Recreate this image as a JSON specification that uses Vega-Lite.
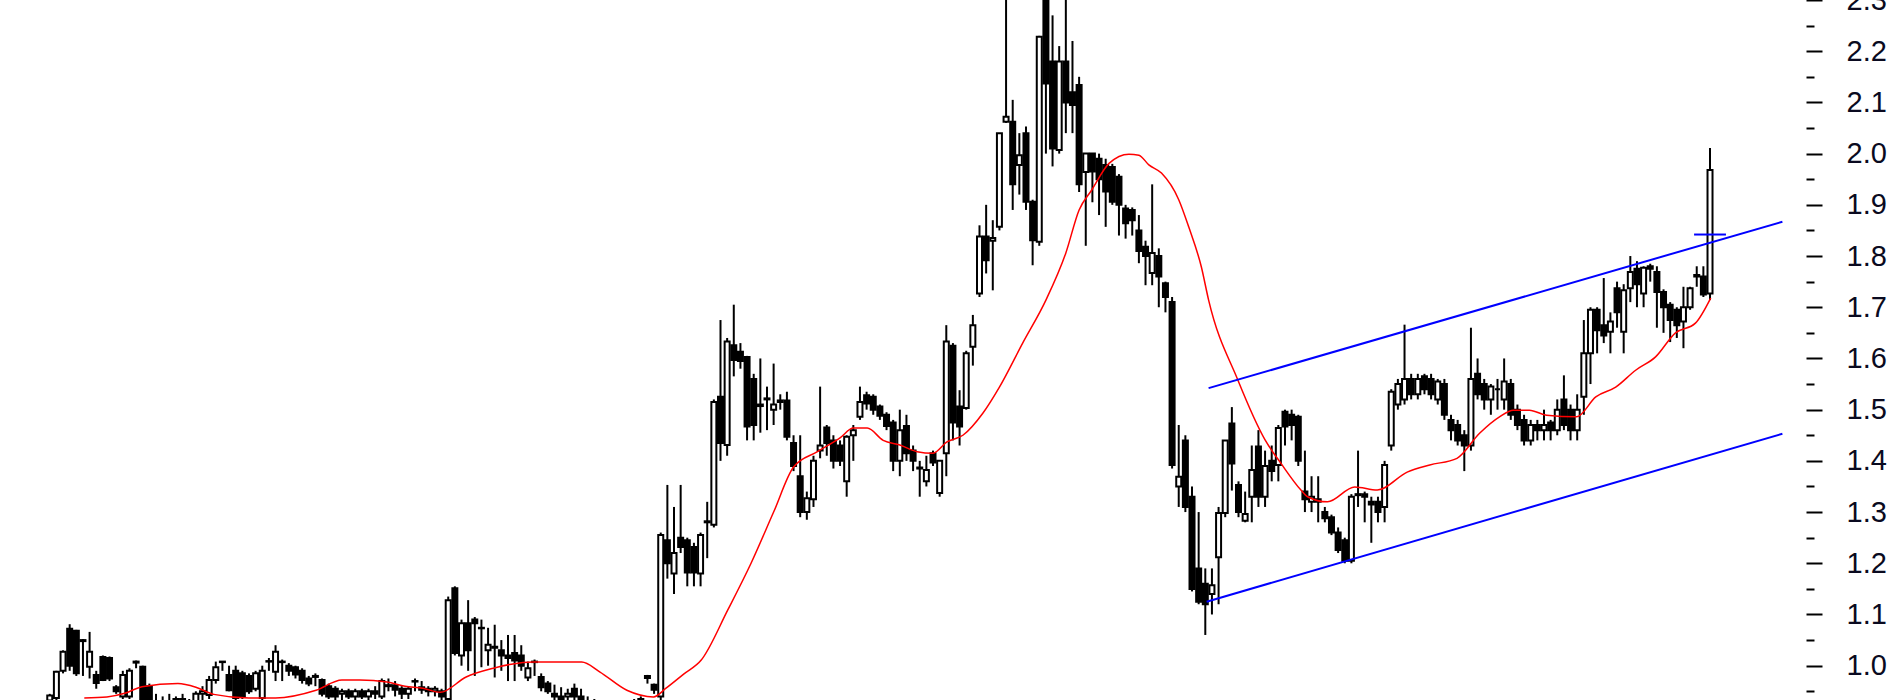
{
"$schema": "https://vega.github.io/schema/vega-lite/v6.json",
"width": 1806, "height": 700, "padding": {"left": 0, "top": 0, "bottom": 0, "right": 94}, "autosize": {"type": "none"},
"background": "white",
"config": {"view": {"stroke": null}},
"resolve": {"axis": {"y": "independent"}},
"datasets": {
"candles": [
{"i":0,"o":0.932,"h":0.945,"l":0.925,"c":0.942},
{"i":1,"o":0.937,"h":0.99,"l":0.93,"c":0.988},
{"i":2,"o":0.99,"h":1.03,"l":0.985,"c":1.027},
{"i":3,"o":1.072,"h":1.081,"l":0.99,"c":1.0},
{"i":4,"o":1.068,"h":1.07,"l":0.98,"c":0.985},
{"i":5,"o":1.05,"h":1.052,"l":0.98,"c":1.048},
{"i":6,"o":0.998,"h":1.066,"l":0.975,"c":1.027},
{"i":7,"o":0.982,"h":0.99,"l":0.955,"c":0.966},
{"i":8,"o":1.017,"h":1.02,"l":0.97,"c":0.972},
{"i":9,"o":1.015,"h":1.018,"l":0.97,"c":0.975},
{"i":10,"o":0.958,"h":0.962,"l":0.945,"c":0.95},
{"i":11,"o":0.94,"h":0.99,"l":0.935,"c":0.982},
{"i":12,"o":0.94,"h":0.995,"l":0.935,"c":0.99},
{"i":13,"o":1.006,"h":1.01,"l":0.995,"c":1.008},
{"i":14,"o":0.998,"h":1.0,"l":0.91,"c":0.92},
{"i":15,"o":0.96,"h":0.965,"l":0.91,"c":0.92},
{"i":16,"o":0.93,"h":0.945,"l":0.91,"c":0.92},
{"i":17,"o":0.92,"h":0.94,"l":0.9,"c":0.93},
{"i":18,"o":0.93,"h":0.945,"l":0.91,"c":0.925},
{"i":19,"o":0.92,"h":0.94,"l":0.9,"c":0.935},
{"i":20,"o":0.935,"h":0.945,"l":0.91,"c":0.92},
{"i":21,"o":0.92,"h":0.935,"l":0.9,"c":0.93},
{"i":22,"o":0.93,"h":0.95,"l":0.92,"c":0.945},
{"i":23,"o":0.945,"h":0.96,"l":0.93,"c":0.95},
{"i":24,"o":0.943,"h":0.98,"l":0.935,"c":0.972},
{"i":25,"o":0.972,"h":1.008,"l":0.965,"c":0.997},
{"i":26,"o":1.007,"h":1.009,"l":0.99,"c":1.008},
{"i":27,"o":0.982,"h":1.0,"l":0.95,"c":0.952},
{"i":28,"o":0.99,"h":1.0,"l":0.93,"c":0.937},
{"i":29,"o":0.985,"h":0.99,"l":0.935,"c":0.94},
{"i":30,"o":0.98,"h":0.985,"l":0.945,"c":0.95},
{"i":31,"o":0.955,"h":0.99,"l":0.95,"c":0.985},
{"i":32,"o":0.937,"h":1.0,"l":0.93,"c":0.99},
{"i":33,"o":1.008,"h":1.015,"l":0.99,"c":1.009},
{"i":34,"o":0.988,"h":1.04,"l":0.97,"c":1.027},
{"i":35,"o":1.008,"h":1.012,"l":0.97,"c":1.007},
{"i":36,"o":1.0,"h":1.005,"l":0.98,"c":0.99},
{"i":37,"o":0.997,"h":1.0,"l":0.975,"c":0.983},
{"i":38,"o":0.99,"h":0.995,"l":0.965,"c":0.972},
{"i":39,"o":0.975,"h":0.98,"l":0.96,"c":0.965},
{"i":40,"o":0.98,"h":0.985,"l":0.96,"c":0.978},
{"i":41,"o":0.972,"h":0.975,"l":0.94,"c":0.945},
{"i":42,"o":0.96,"h":0.965,"l":0.935,"c":0.94},
{"i":43,"o":0.955,"h":0.96,"l":0.93,"c":0.94},
{"i":44,"o":0.945,"h":0.955,"l":0.93,"c":0.95},
{"i":45,"o":0.95,"h":0.955,"l":0.935,"c":0.94},
{"i":46,"o":0.94,"h":0.955,"l":0.93,"c":0.95},
{"i":47,"o":0.95,"h":0.955,"l":0.935,"c":0.94},
{"i":48,"o":0.94,"h":0.955,"l":0.93,"c":0.95},
{"i":49,"o":0.95,"h":0.96,"l":0.935,"c":0.945},
{"i":50,"o":0.94,"h":0.975,"l":0.935,"c":0.97},
{"i":51,"o":0.962,"h":0.975,"l":0.95,"c":0.96},
{"i":52,"o":0.962,"h":0.97,"l":0.94,"c":0.953},
{"i":53,"o":0.955,"h":0.96,"l":0.935,"c":0.945},
{"i":54,"o":0.945,"h":0.96,"l":0.935,"c":0.955},
{"i":55,"o":0.97,"h":0.975,"l":0.95,"c":0.969},
{"i":56,"o":0.958,"h":0.97,"l":0.945,"c":0.953},
{"i":57,"o":0.955,"h":0.96,"l":0.94,"c":0.95},
{"i":58,"o":0.95,"h":0.96,"l":0.94,"c":0.955},
{"i":59,"o":0.95,"h":0.955,"l":0.93,"c":0.94},
{"i":60,"o":0.935,"h":1.135,"l":0.93,"c":1.128},
{"i":61,"o":1.151,"h":1.155,"l":1.02,"c":1.025},
{"i":62,"o":1.02,"h":1.09,"l":1.0,"c":1.083},
{"i":63,"o":1.083,"h":1.128,"l":0.99,"c":1.03},
{"i":64,"o":1.09,"h":1.095,"l":0.98,"c":1.083},
{"i":65,"o":1.074,"h":1.09,"l":0.997,"c":1.073},
{"i":66,"o":1.03,"h":1.074,"l":1.0,"c":1.041},
{"i":67,"o":1.035,"h":1.08,"l":0.977,"c":1.037},
{"i":68,"o":1.03,"h":1.05,"l":0.99,"c":1.02},
{"i":69,"o":1.02,"h":1.06,"l":0.97,"c":1.015},
{"i":70,"o":1.025,"h":1.06,"l":0.97,"c":1.01},
{"i":71,"o":1.02,"h":1.04,"l":0.99,"c":1.0},
{"i":72,"o":0.977,"h":1.008,"l":0.97,"c":0.995},
{"i":73,"o":1.008,"h":1.012,"l":0.98,"c":1.007},
{"i":74,"o":0.978,"h":0.985,"l":0.95,"c":0.958},
{"i":75,"o":0.965,"h":0.97,"l":0.945,"c":0.95},
{"i":76,"o":0.945,"h":0.963,"l":0.93,"c":0.94},
{"i":77,"o":0.94,"h":0.958,"l":0.925,"c":0.935},
{"i":78,"o":0.94,"h":0.955,"l":0.93,"c":0.945},
{"i":79,"o":0.955,"h":0.965,"l":0.93,"c":0.94},
{"i":80,"o":0.94,"h":0.955,"l":0.925,"c":0.935},
{"i":81,"o":0.93,"h":0.94,"l":0.91,"c":0.92},
{"i":82,"o":0.92,"h":0.935,"l":0.9,"c":0.925},
{"i":83,"o":0.925,"h":0.93,"l":0.9,"c":0.91},
{"i":84,"o":0.91,"h":0.925,"l":0.89,"c":0.9},
{"i":85,"o":0.9,"h":0.92,"l":0.89,"c":0.915},
{"i":86,"o":0.915,"h":0.925,"l":0.895,"c":0.905},
{"i":87,"o":0.905,"h":0.93,"l":0.89,"c":0.92},
{"i":88,"o":0.92,"h":0.935,"l":0.9,"c":0.91},
{"i":89,"o":0.91,"h":0.94,"l":0.9,"c":0.935},
{"i":90,"o":0.976,"h":0.982,"l":0.965,"c":0.98},
{"i":91,"o":0.963,"h":0.965,"l":0.945,"c":0.953},
{"i":92,"o":0.94,"h":1.26,"l":0.93,"c":1.255},
{"i":93,"o":1.245,"h":1.353,"l":1.17,"c":1.2},
{"i":94,"o":1.18,"h":1.31,"l":1.14,"c":1.22},
{"i":95,"o":1.25,"h":1.353,"l":1.22,"c":1.232},
{"i":96,"o":1.245,"h":1.25,"l":1.155,"c":1.182},
{"i":97,"o":1.232,"h":1.24,"l":1.155,"c":1.182},
{"i":98,"o":1.18,"h":1.26,"l":1.155,"c":1.255},
{"i":99,"o":1.28,"h":1.32,"l":1.21,"c":1.282},
{"i":100,"o":1.275,"h":1.52,"l":1.27,"c":1.515},
{"i":101,"o":1.525,"h":1.675,"l":1.4,"c":1.435},
{"i":102,"o":1.431,"h":1.64,"l":1.41,"c":1.633},
{"i":103,"o":1.626,"h":1.705,"l":1.565,"c":1.597},
{"i":104,"o":1.613,"h":1.63,"l":1.58,"c":1.595},
{"i":105,"o":1.603,"h":1.605,"l":1.44,"c":1.467},
{"i":106,"o":1.56,"h":1.57,"l":1.44,"c":1.47},
{"i":107,"o":1.51,"h":1.6,"l":1.455,"c":1.507},
{"i":108,"o":1.52,"h":1.545,"l":1.46,"c":1.522},
{"i":109,"o":1.5,"h":1.59,"l":1.47,"c":1.51},
{"i":110,"o":1.518,"h":1.53,"l":1.5,"c":1.515},
{"i":111,"o":1.518,"h":1.535,"l":1.44,"c":1.447},
{"i":112,"o":1.435,"h":1.45,"l":1.38,"c":1.39},
{"i":113,"o":1.37,"h":1.45,"l":1.29,"c":1.3},
{"i":114,"o":1.3,"h":1.34,"l":1.285,"c":1.327},
{"i":115,"o":1.325,"h":1.41,"l":1.31,"c":1.4},
{"i":116,"o":1.42,"h":1.545,"l":1.405,"c":1.43},
{"i":117,"o":1.465,"h":1.47,"l":1.41,"c":1.435},
{"i":118,"o":1.44,"h":1.45,"l":1.385,"c":1.4},
{"i":119,"o":1.43,"h":1.44,"l":1.39,"c":1.4},
{"i":120,"o":1.36,"h":1.45,"l":1.33,"c":1.447},
{"i":121,"o":1.45,"h":1.47,"l":1.4,"c":1.46},
{"i":122,"o":1.486,"h":1.545,"l":1.48,"c":1.515},
{"i":123,"o":1.528,"h":1.535,"l":1.5,"c":1.512},
{"i":124,"o":1.525,"h":1.53,"l":1.49,"c":1.5},
{"i":125,"o":1.506,"h":1.51,"l":1.48,"c":1.488},
{"i":126,"o":1.49,"h":1.495,"l":1.46,"c":1.468},
{"i":127,"o":1.475,"h":1.48,"l":1.38,"c":1.4},
{"i":128,"o":1.4,"h":1.5,"l":1.37,"c":1.46},
{"i":129,"o":1.468,"h":1.49,"l":1.4,"c":1.415},
{"i":130,"o":1.42,"h":1.43,"l":1.38,"c":1.4},
{"i":131,"o":1.385,"h":1.4,"l":1.33,"c":1.387},
{"i":132,"o":1.36,"h":1.41,"l":1.35,"c":1.382},
{"i":133,"o":1.415,"h":1.42,"l":1.39,"c":1.397},
{"i":134,"o":1.337,"h":1.4,"l":1.33,"c":1.4},
{"i":135,"o":1.415,"h":1.665,"l":1.37,"c":1.633},
{"i":136,"o":1.625,"h":1.63,"l":1.44,"c":1.475},
{"i":137,"o":1.506,"h":1.538,"l":1.43,"c":1.467},
{"i":138,"o":1.503,"h":1.615,"l":1.5,"c":1.61},
{"i":139,"o":1.623,"h":1.685,"l":1.586,"c":1.665},
{"i":140,"o":1.727,"h":1.86,"l":1.72,"c":1.838},
{"i":141,"o":1.838,"h":1.9,"l":1.766,"c":1.792},
{"i":142,"o":1.83,"h":1.87,"l":1.733,"c":1.835},
{"i":143,"o":1.857,"h":2.04,"l":1.85,"c":2.04},
{"i":144,"o":2.062,"h":2.31,"l":2.06,"c":2.072},
{"i":145,"o":2.062,"h":2.105,"l":1.89,"c":1.94},
{"i":146,"o":1.978,"h":2.04,"l":1.92,"c":1.997},
{"i":147,"o":2.04,"h":2.053,"l":1.89,"c":1.906},
{"i":148,"o":1.906,"h":1.91,"l":1.782,"c":1.831},
{"i":149,"o":1.828,"h":2.23,"l":1.82,"c":2.228},
{"i":150,"o":2.3,"h":2.35,"l":2.0,"c":2.137},
{"i":151,"o":2.18,"h":2.27,"l":1.975,"c":2.01},
{"i":152,"o":2.007,"h":2.21,"l":2.0,"c":2.18},
{"i":153,"o":2.18,"h":2.3,"l":2.04,"c":2.1},
{"i":154,"o":2.12,"h":2.22,"l":2.04,"c":2.095},
{"i":155,"o":2.134,"h":2.15,"l":1.925,"c":1.94},
{"i":156,"o":1.964,"h":2.0,"l":1.82,"c":2.0},
{"i":157,"o":2.0,"h":2.0,"l":1.905,"c":1.965},
{"i":158,"o":1.99,"h":2.0,"l":1.88,"c":1.95},
{"i":159,"o":1.978,"h":1.99,"l":1.857,"c":1.926},
{"i":160,"o":1.974,"h":1.98,"l":1.9,"c":1.906},
{"i":161,"o":1.955,"h":1.96,"l":1.84,"c":1.9},
{"i":162,"o":1.893,"h":1.9,"l":1.834,"c":1.864},
{"i":163,"o":1.89,"h":1.895,"l":1.84,"c":1.87},
{"i":164,"o":1.85,"h":1.88,"l":1.786,"c":1.81},
{"i":165,"o":1.818,"h":1.83,"l":1.743,"c":1.8},
{"i":166,"o":1.767,"h":1.94,"l":1.743,"c":1.806},
{"i":167,"o":1.8,"h":1.815,"l":1.7,"c":1.76},
{"i":168,"o":1.747,"h":1.75,"l":1.69,"c":1.72},
{"i":169,"o":1.71,"h":1.72,"l":1.385,"c":1.392},
{"i":170,"o":1.35,"h":1.47,"l":1.31,"c":1.369},
{"i":171,"o":1.44,"h":1.45,"l":1.3,"c":1.31},
{"i":172,"o":1.33,"h":1.35,"l":1.145,"c":1.15},
{"i":173,"o":1.19,"h":1.3,"l":1.12,"c":1.125},
{"i":174,"o":1.16,"h":1.19,"l":1.06,"c":1.12},
{"i":175,"o":1.14,"h":1.19,"l":1.1,"c":1.157},
{"i":176,"o":1.212,"h":1.31,"l":1.12,"c":1.298},
{"i":177,"o":1.298,"h":1.44,"l":1.29,"c":1.44},
{"i":178,"o":1.473,"h":1.505,"l":1.342,"c":1.395},
{"i":179,"o":1.353,"h":1.36,"l":1.29,"c":1.3},
{"i":180,"o":1.283,"h":1.34,"l":1.28,"c":1.296},
{"i":181,"o":1.33,"h":1.43,"l":1.28,"c":1.382},
{"i":182,"o":1.428,"h":1.46,"l":1.31,"c":1.33},
{"i":183,"o":1.33,"h":1.42,"l":1.31,"c":1.39},
{"i":184,"o":1.4,"h":1.43,"l":1.36,"c":1.38},
{"i":185,"o":1.392,"h":1.47,"l":1.36,"c":1.464},
{"i":186,"o":1.496,"h":1.5,"l":1.43,"c":1.467},
{"i":187,"o":1.49,"h":1.5,"l":1.44,"c":1.47},
{"i":188,"o":1.486,"h":1.49,"l":1.39,"c":1.4},
{"i":189,"o":1.34,"h":1.42,"l":1.3,"c":1.325},
{"i":190,"o":1.32,"h":1.37,"l":1.3,"c":1.33},
{"i":191,"o":1.32,"h":1.37,"l":1.28,"c":1.325},
{"i":192,"o":1.3,"h":1.31,"l":1.28,"c":1.288},
{"i":193,"o":1.29,"h":1.295,"l":1.255,"c":1.26},
{"i":194,"o":1.26,"h":1.27,"l":1.22,"c":1.226},
{"i":195,"o":1.245,"h":1.25,"l":1.2,"c":1.205},
{"i":196,"o":1.205,"h":1.335,"l":1.2,"c":1.33},
{"i":197,"o":1.333,"h":1.42,"l":1.31,"c":1.335},
{"i":198,"o":1.335,"h":1.34,"l":1.28,"c":1.33},
{"i":199,"o":1.32,"h":1.33,"l":1.24,"c":1.315},
{"i":200,"o":1.32,"h":1.33,"l":1.28,"c":1.3},
{"i":201,"o":1.31,"h":1.4,"l":1.28,"c":1.392},
{"i":202,"o":1.43,"h":1.54,"l":1.42,"c":1.535},
{"i":203,"o":1.51,"h":1.56,"l":1.5,"c":1.55},
{"i":204,"o":1.52,"h":1.666,"l":1.51,"c":1.56},
{"i":205,"o":1.56,"h":1.57,"l":1.52,"c":1.53},
{"i":206,"o":1.53,"h":1.57,"l":1.52,"c":1.56},
{"i":207,"o":1.565,"h":1.57,"l":1.53,"c":1.54},
{"i":208,"o":1.56,"h":1.57,"l":1.52,"c":1.53},
{"i":209,"o":1.52,"h":1.56,"l":1.51,"c":1.555},
{"i":210,"o":1.55,"h":1.56,"l":1.48,"c":1.49},
{"i":211,"o":1.48,"h":1.49,"l":1.44,"c":1.46},
{"i":212,"o":1.47,"h":1.48,"l":1.43,"c":1.44},
{"i":213,"o":1.45,"h":1.46,"l":1.38,"c":1.43},
{"i":214,"o":1.43,"h":1.66,"l":1.42,"c":1.56},
{"i":215,"o":1.57,"h":1.6,"l":1.52,"c":1.53},
{"i":216,"o":1.55,"h":1.56,"l":1.5,"c":1.52},
{"i":217,"o":1.52,"h":1.55,"l":1.49,"c":1.545},
{"i":218,"o":1.54,"h":1.56,"l":1.5,"c":1.54},
{"i":219,"o":1.52,"h":1.6,"l":1.5,"c":1.555},
{"i":220,"o":1.55,"h":1.56,"l":1.48,"c":1.49},
{"i":221,"o":1.5,"h":1.51,"l":1.46,"c":1.47},
{"i":222,"o":1.48,"h":1.49,"l":1.43,"c":1.44},
{"i":223,"o":1.44,"h":1.48,"l":1.43,"c":1.47},
{"i":224,"o":1.47,"h":1.48,"l":1.44,"c":1.46},
{"i":225,"o":1.46,"h":1.5,"l":1.44,"c":1.47},
{"i":226,"o":1.475,"h":1.48,"l":1.44,"c":1.46},
{"i":227,"o":1.46,"h":1.52,"l":1.45,"c":1.5},
{"i":228,"o":1.52,"h":1.567,"l":1.46,"c":1.47},
{"i":229,"o":1.5,"h":1.51,"l":1.44,"c":1.46},
{"i":230,"o":1.46,"h":1.53,"l":1.44,"c":1.5},
{"i":231,"o":1.525,"h":1.675,"l":1.49,"c":1.61},
{"i":232,"o":1.61,"h":1.7,"l":1.55,"c":1.695},
{"i":233,"o":1.695,"h":1.7,"l":1.61,"c":1.655},
{"i":234,"o":1.665,"h":1.757,"l":1.63,"c":1.645},
{"i":235,"o":1.652,"h":1.69,"l":1.61,"c":1.672},
{"i":236,"o":1.737,"h":1.75,"l":1.66,"c":1.69},
{"i":237,"o":1.652,"h":1.745,"l":1.61,"c":1.733},
{"i":238,"o":1.737,"h":1.8,"l":1.71,"c":1.769},
{"i":239,"o":1.775,"h":1.79,"l":1.7,"c":1.745},
{"i":240,"o":1.727,"h":1.78,"l":1.7,"c":1.777},
{"i":241,"o":1.78,"h":1.785,"l":1.75,"c":1.775},
{"i":242,"o":1.769,"h":1.78,"l":1.66,"c":1.73},
{"i":243,"o":1.73,"h":1.735,"l":1.65,"c":1.7},
{"i":244,"o":1.705,"h":1.71,"l":1.632,"c":1.675},
{"i":245,"o":1.695,"h":1.7,"l":1.64,"c":1.665},
{"i":246,"o":1.672,"h":1.74,"l":1.62,"c":1.7},
{"i":247,"o":1.7,"h":1.74,"l":1.695,"c":1.737},
{"i":248,"o":1.763,"h":1.78,"l":1.74,"c":1.76},
{"i":249,"o":1.76,"h":1.78,"l":1.72,"c":1.725},
{"i":250,"o":1.727,"h":2.011,"l":1.714,"c":1.968}
],
"ma": [
{"i":5.2,"v":0.937},{"i":8.6,"v":0.939},{"i":11.3,"v":0.946},{"i":13.9,"v":0.959},{"i":19.3,"v":0.965},{"i":22.0,"v":0.958},{"i":24.7,"v":0.944},{"i":30.0,"v":0.937},{"i":34.0,"v":0.937},{"i":40.1,"v":0.952},{"i":44.0,"v":0.972},{"i":46.7,"v":0.972},{"i":50.8,"v":0.968},{"i":53.5,"v":0.96},{"i":56.2,"v":0.956},{"i":58.8,"v":0.948},{"i":62.7,"v":0.978},{"i":66.8,"v":0.995},{"i":69.5,"v":1.003},{"i":72.8,"v":1.007},{"i":80.1,"v":1.007},{"i":82.8,"v":0.988},{"i":86.9,"v":0.952},{"i":90.9,"v":0.939},{"i":92.8,"v":0.956},{"i":95.5,"v":0.984},{"i":98.1,"v":1.011},{"i":102.1,"v":1.109},{"i":105.6,"v":1.2},{"i":109.0,"v":1.3},{"i":112.0,"v":1.388},{"i":115.6,"v":1.418},{"i":119.0,"v":1.445},{"i":121.0,"v":1.464},{"i":123.1,"v":1.464},{"i":125.5,"v":1.44},{"i":128.0,"v":1.431},{"i":130.6,"v":1.418},{"i":133.0,"v":1.415},{"i":135.1,"v":1.437},{"i":137.5,"v":1.45},{"i":140.5,"v":1.493},{"i":143.0,"v":1.544},{"i":146.5,"v":1.63},{"i":150.0,"v":1.714},{"i":153.0,"v":1.806},{"i":155.0,"v":1.89},{"i":156.9,"v":1.929},{"i":159.5,"v":1.981},{"i":162.5,"v":1.999},{"i":164.0,"v":1.997},{"i":165.5,"v":1.978},{"i":167.4,"v":1.962},{"i":170.0,"v":1.91},{"i":171.5,"v":1.857},{"i":173.4,"v":1.779},{"i":174.5,"v":1.714},{"i":178.9,"v":1.558},{"i":183.0,"v":1.441},{"i":185.4,"v":1.395},{"i":188.4,"v":1.343},{"i":189.4,"v":1.33},{"i":192.4,"v":1.32},{"i":196.5,"v":1.349},{"i":199.9,"v":1.343},{"i":204.4,"v":1.378},{"i":207.8,"v":1.392},{"i":211.9,"v":1.405},{"i":215.3,"v":1.454},{"i":218.3,"v":1.486},{"i":220.4,"v":1.499},{"i":222.8,"v":1.499},{"i":225.4,"v":1.489},{"i":229.9,"v":1.486},{"i":232.8,"v":1.525},{"i":235.8,"v":1.544},{"i":238.8,"v":1.577},{"i":241.8,"v":1.603},{"i":244.8,"v":1.65},{"i":247.8,"v":1.669},{"i":250.1,"v":1.718}
],
"trend": [
{"line":"upper","i":174.5,"v":1.542},{"line":"upper","i":260.9,"v":1.867},
{"line":"lower","i":174.2,"v":1.125},{"line":"lower","i":260.9,"v":1.453}
],
"marker": [
{"i1":247.6,"i2":252.4,"v":1.842}
]
},
"layer": [
{"data":{"name":"candles"},
 "mark":{"type":"rule","color":"black","strokeWidth":2},
 "encoding":{
  "x":{"field":"i","type":"quantitative","scale":{"domain":[-6.739,263.7],"nice":false,"zero":false},"axis":null},
  "y":{"field":"l","type":"quantitative","title":null,"scale":{"domain":[0.933,2.3],"nice":false,"zero":false},
   "axis":{"orient":"right","title":null,"domain":false,"grid":false,
    "values":[1.0,1.1,1.2,1.3,1.4,1.5,1.6,1.7,1.8,1.9,2.0,2.1,2.2,2.3],
    "format":".1f",
    "tickSize":16,"tickWidth":2,"tickColor":"black",
    "labelFont":"Liberation Sans","labelFontSize":29,"labelColor":"#0a0a20",
    "labelPadding":24,"labelBound":false,"labelOverlap":false,"labelFlush":false,"labelBaseline":"middle"}},
  "y2":{"field":"h"}}},
{"data":{"name":"candles"},
 "mark":{"type":"bar","width":5,"stroke":"black","strokeWidth":2},
 "encoding":{
  "x":{"field":"i","type":"quantitative"},
  "y":{"field":"o","type":"quantitative","title":null,
   "axis":{"orient":"right","title":null,"domain":false,"grid":false,"labels":false,
    "values":[0.95,1.05,1.15,1.25,1.35,1.45,1.55,1.65,1.75,1.85,1.95,2.05,2.15,2.25],
    "tickSize":8,"tickWidth":2,"tickColor":"black"}},
  "y2":{"field":"c"},
  "fill":{"condition":{"test":"datum.c >= datum.o","value":"white"},"value":"black"}}},
{"data":{"name":"ma"},
 "mark":{"type":"line","color":"#ff0000","strokeWidth":1.5,"interpolate":"monotone"},
 "encoding":{"x":{"field":"i","type":"quantitative"},"y":{"field":"v","type":"quantitative","title":null,"axis":null}}},
{"data":{"name":"trend"},
 "mark":{"type":"line","color":"#0000ff","strokeWidth":2},
 "encoding":{"x":{"field":"i","type":"quantitative"},"y":{"field":"v","type":"quantitative","title":null,"axis":null},"detail":{"field":"line"}}},
{"data":{"name":"marker"},
 "mark":{"type":"rule","color":"#0000ff","strokeWidth":2},
 "encoding":{"x":{"field":"i1","type":"quantitative"},"x2":{"field":"i2"},"y":{"field":"v","type":"quantitative","title":null,"axis":null}}}
]
}
